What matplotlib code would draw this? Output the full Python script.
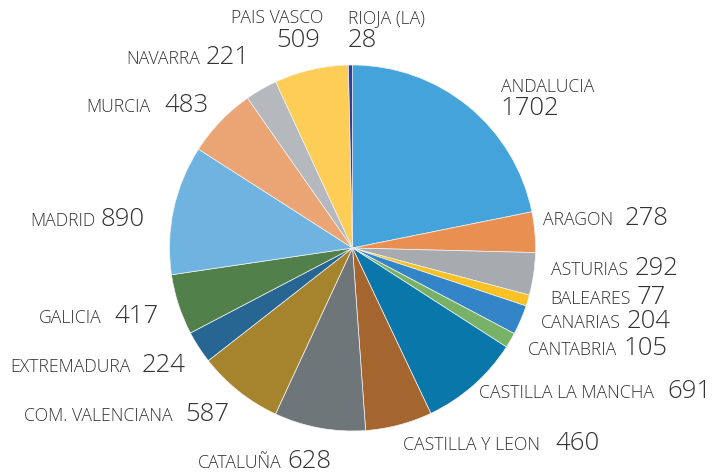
import matplotlib.pyplot as plt

# Data: regions and counts (clockwise from 12 o'clock)
regions = ['ANDALUCIA', 'ARAGON', 'ASTURIAS', 'BALEARES', 'CANARIAS', 'CANTABRIA',
           'CASTILLA LA MANCHA', 'CASTILLA Y LEON', 'CATALUÑA', 'COM. VALENCIANA',
           'EXTREMADURA', 'GALICIA', 'MADRID', 'MURCIA', 'NAVARRA', 'PAIS VASCO',
           'RIOJA (LA)']
counts = [1702, 278, 292, 77, 204, 105, 691, 460, 628, 587, 224, 417, 890, 483,
          221, 509, 28]

colors = ['#44A3DA', '#E88F51', '#A7ABB0', '#F9C124', '#3485C7', '#78B266',
          '#0977AA', '#A5652F', '#6F767A', '#A6842E', '#276592', '#52804A',
          '#6FB3E0', '#EBA574', '#B5B9BE', '#FDCD55', '#2D3E9C']

# label layout in image pixels: (mode, name_x, name_baseline, num_x, num_baseline)
# mode 'row' -> name right-aligned, number left-aligned after it
# mode 'left' / 'right' -> two lines, aligned on that side
label_layout = [
    ('left', 501, 92, 500, 115),
    ('row', 613, 225, 625, 225),
    ('row', 628, 275, 635, 275),
    ('row', 631, 304, 637, 304),
    ('row', 621, 328, 627, 328),
    ('row', 617, 355, 623, 355),
    ('row', 654, 398, 667, 398),
    ('row', 540, 450, 555, 450),
    ('row', 282, 468, 287, 468),
    ('row', 173, 421, 185, 421),
    ('row', 131, 372, 142, 372),
    ('row', 102, 323, 114, 323),
    ('row', 95, 226, 100, 226),
    ('row', 150, 112, 164, 112),
    ('row', 200, 64, 206, 64),
    ('right', 323, 23, 320, 47),
    ('left', 348, 23, 348, 47),
]

W, H = 712, 475
fig = plt.figure(figsize=(W / 100, H / 100), dpi=100)
ax = fig.add_axes([0, 0, 1, 1])

ax.pie(counts, colors=colors, startangle=90, counterclock=False,
       center=(352.5, H - 248), radius=183,
       wedgeprops=dict(edgecolor='#f2f2f2', linewidth=0.5))

ax.set_xlim(0, W)
ax.set_ylim(0, H)
ax.set_aspect('equal')
ax.axis('off')

txt_color = '#333333'
name_size = 12.7
num_size = 18.5
for name, val, (mode, nx, ny, vx, vy) in zip(regions, counts, label_layout):
    if mode == 'row':
        ax.text(nx, H - ny, name, ha='right', va='baseline', fontsize=name_size,
                color=txt_color, family='Open Sans', weight='light')
        ax.text(vx, H - vy, str(val), ha='left', va='baseline', fontsize=num_size,
                color=txt_color, family='Open Sans', weight='light')
    else:
        ax.text(nx, H - ny, name, ha=mode, va='baseline', fontsize=name_size,
                color=txt_color, family='Open Sans', weight='light')
        ax.text(vx, H - vy, str(val), ha=mode, va='baseline', fontsize=num_size,
                color=txt_color, family='Open Sans', weight='light')

plt.savefig('out.png', dpi=100)
